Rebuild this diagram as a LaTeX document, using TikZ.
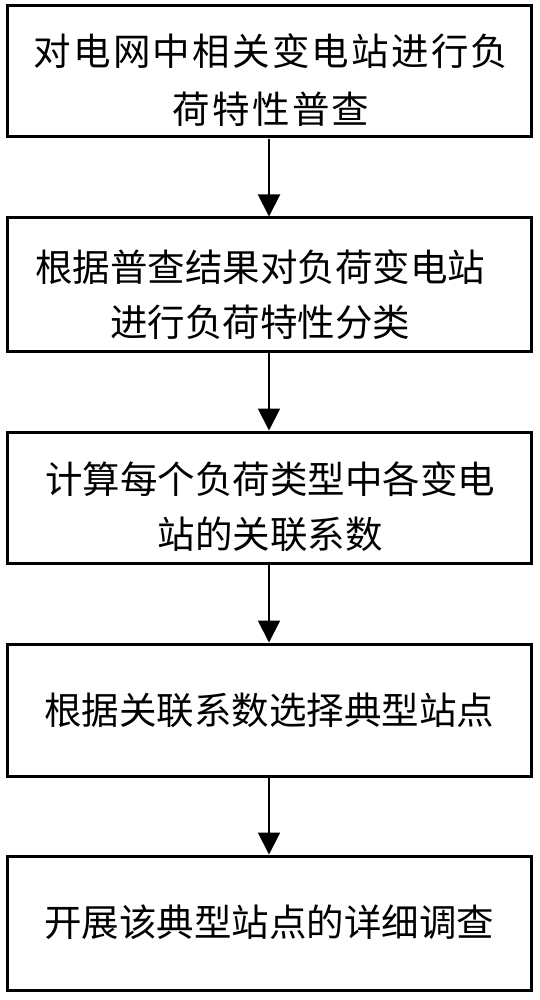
\documentclass[tikz,border=0pt]{standalone}
\usepackage{fontspec}
\newfontfamily\cjk{Noto Sans CJK SC}
\newfontfamily\cjkwide[LetterSpace=6]{Noto Sans CJK SC}
\usetikzlibrary{arrows.meta}
\tikzset{
  stepbox/.style={draw=black, line width=3pt, minimum width=524pt, inner sep=0pt, fill=white},
  steptext/.style={align=center, inner sep=0pt, font=\cjk\fontsize{37.5}{55}\selectfont},
  flowarrow/.style={line width=2pt, -{Triangle[length=22pt,width=22pt]}, shorten <=0.5pt}
}
\begin{document}
\begin{tikzpicture}[x=1pt,y=-1pt]
\useasboundingbox[fill=white] (0,0) rectangle (539,1000);
\node[stepbox, minimum height=131pt] (b1) at (269,71.5) {};
\node[stepbox, minimum height=133pt] (b2) at (269,284.5) {};
\node[stepbox, minimum height=131pt] (b3) at (269,497.5) {};
\node[stepbox, minimum height=132pt] (b4) at (269,710) {};
\node[stepbox, minimum height=134pt] (b5) at (269,923) {};
\node[steptext, font=\cjkwide\fontsize{37.5}{58}\selectfont] (t1) at (271,80) {对电网中相关变电站进行负\\荷特性普查};
\node[steptext] (t2) at (260,294.5) {根据普查结果对负荷变电站\\进行负荷特性分类};
\node[steptext] (t3) at (270,506.5) {计算每个负荷类型中各变电\\站的关联系数};
\node[steptext] (t4) at (269,710) {根据关联系数选择典型站点};
\node[steptext] (t5) at (269,922) {开展该典型站点的详细调查};
\draw[flowarrow] (b1.south) -- (b2.north);
\draw[flowarrow] (b2.south) -- (b3.north);
\draw[flowarrow] (b3.south) -- (b4.north);
\draw[flowarrow] (b4.south) -- (b5.north);
\end{tikzpicture}
\end{document}
